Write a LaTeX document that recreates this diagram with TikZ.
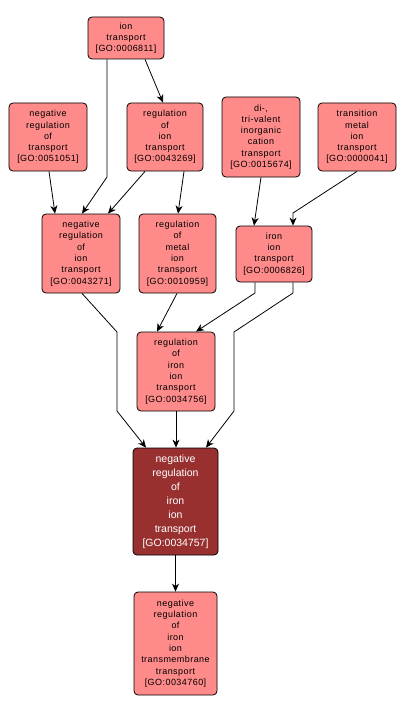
\documentclass[tikz,border=0pt]{standalone}
\usepackage{fontspec}
\setmainfont{Liberation Sans}
\newfontfamily\smallfont[LetterSpace=5]{Liberation Sans}
\usetikzlibrary{arrows.meta}
\definecolor{termfill}{RGB}{255,138,138}
\definecolor{focusfill}{RGB}{153,48,48}
\tikzset{
  term/.style={draw=black, line width=0.8bp, rounded corners=4bp, fill=termfill,
    inner sep=0pt, align=center, text=black,
    font=\smallfont\fontsize{9bp}{11.3bp}\selectfont},
  focus/.style={term, fill=focusfill, text=white,
    font=\fontsize{10.5bp}{14bp}\selectfont},
  edge/.style={draw=black, line width=0.8bp, -{Stealth[length=8bp,width=7bp,inset=2.5bp]}}
}
\begin{document}
\begin{tikzpicture}[x=1bp,y=-1bp]
\useasboundingbox (0,0) rectangle (406,713);
\fill[white] (0,0) rectangle (406,713);
\node[term, minimum width=76bp, minimum height=42bp] (it) at (126,38) {ion\\transport\\{[GO:0006811]}};
\node[term, minimum width=78bp, minimum height=68bp] (nrt) at (48,137) {negative\\regulation\\of\\transport\\{[GO:0051051]}};
\node[term, minimum width=76bp, minimum height=68bp] (rit) at (165,137) {regulation\\of\\ion\\transport\\{[GO:0043269]}};
\node[term, minimum width=78bp, minimum height=80bp] (dtc) at (261,137) {di-,\\tri-valent\\inorganic\\cation\\transport\\{[GO:0015674]}};
\node[term, minimum width=78bp, minimum height=68bp] (tmi) at (357,137) {transition\\metal\\ion\\transport\\{[GO:0000041]}};
\node[term, minimum width=78bp, minimum height=79bp] (nrit) at (81,253.5) {negative\\regulation\\of\\ion\\transport\\{[GO:0043271]}};
\node[term, minimum width=77bp, minimum height=79bp] (rmit) at (177.5,253.5) {regulation\\of\\metal\\ion\\transport\\{[GO:0010959]}};
\node[term, minimum width=76bp, minimum height=56bp] (iit) at (274,254) {iron\\ion\\transport\\{[GO:0006826]}};
\node[term, minimum width=78bp, minimum height=79bp] (riit) at (176,371.5) {regulation\\of\\iron\\ion\\transport\\{[GO:0034756]}};
\node[focus, minimum width=85bp, minimum height=107bp] (nriit) at (175.5,501.5) {negative\\regulation\\of\\iron\\ion\\transport\\{[GO:0034757]}};
\node[term, minimum width=83bp, minimum height=103bp] (nritt) at (175.5,643.5) {negative\\regulation\\of\\iron\\ion\\transmembrane\\transport\\{[GO:0034760]}};

\draw[edge] ([xshift=19bp]it.south) -- ([xshift=-2bp]rit.north);
\draw[edge] ([xshift=-19bp]it.south) -- (107,177) -- ([xshift=1bp]nrit.north);
\draw[edge] ([xshift=1bp]nrt.south) -- ([xshift=-26bp]nrit.north);
\draw[edge] ([xshift=-20bp]rit.south) -- ([xshift=27bp]nrit.north);
\draw[edge] ([xshift=19bp]rit.south) -- ([xshift=0.5bp]rmit.north);
\draw[edge] (dtc.south) -- ([xshift=-20bp]iit.north);
\draw[edge] (tmi.south) -- (293,213) -- ([xshift=19bp]iit.north);
\draw[edge] ([xshift=1bp]nrit.south) -- (117,332) -- (117,411) -- ([xshift=-29.5bp]nriit.north);
\draw[edge] ([xshift=-0.5bp]rmit.south) -- ([xshift=-19bp]riit.north);
\draw[edge] ([xshift=-19bp]iit.south) -- (255,293) -- ([xshift=20bp]riit.north);
\draw[edge] ([xshift=19bp]iit.south) -- (293,293) -- (234,332) -- (234,411) -- ([xshift=30.5bp]nriit.north);
\draw[edge] (riit.south) -- (riit.south |- nriit.north);
\draw[edge] (nriit.south) -- (nritt.north);
\end{tikzpicture}
\end{document}
